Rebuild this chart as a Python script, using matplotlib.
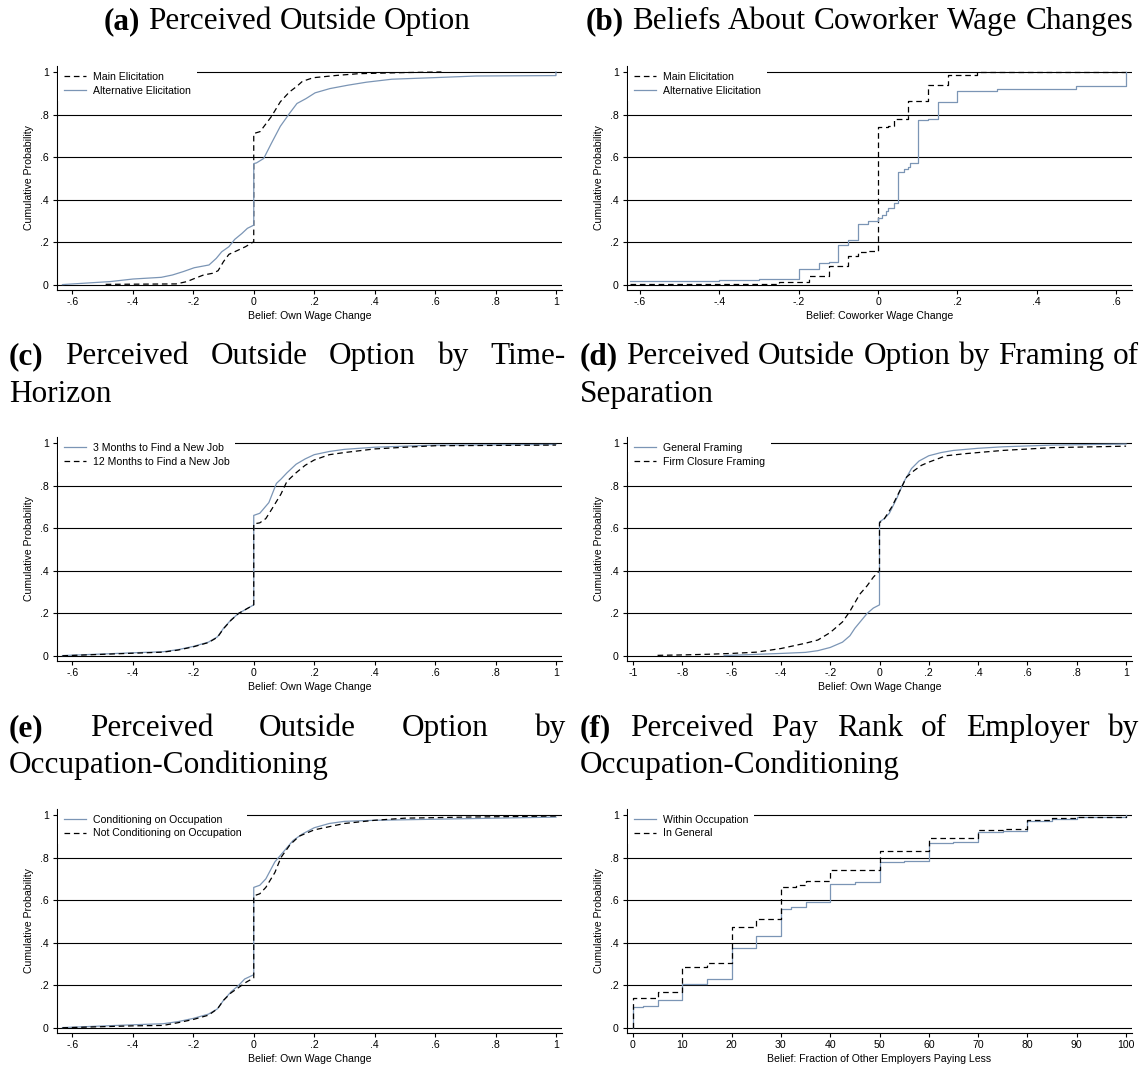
import numpy as np
import matplotlib
matplotlib.use("Agg")
import matplotlib.pyplot as plt
from matplotlib.lines import Line2D

plt.rcParams['font.family'] = ['Liberation Sans', 'DejaVu Sans']

# ---------------- data ----------------
# (a) perceived outside option
a_main_x = [-0.49, -0.257, -0.221, -0.197, -0.166, -0.136, -0.118, -0.1, -0.082, -0.057, -0.027, 0.0,
            0.0, 0.021, 0.058, 0.088, 0.118, 0.143, 0.161, 0.197, 0.276, 0.348, 0.494, 0.621]
a_main_y = [0.003, 0.005, 0.016, 0.03, 0.047, 0.055, 0.067, 0.11, 0.144, 0.16, 0.18, 0.203,
            0.711, 0.72, 0.79, 0.86, 0.906, 0.933, 0.956, 0.973, 0.984, 0.992, 0.997, 1.0]
a_alt_x = [-0.633, -0.475, -0.4, -0.306, -0.269, -0.233, -0.197, -0.148, -0.124, -0.106, -0.082, -0.063,
           -0.039, -0.021, 0.0, 0.0, 0.009, 0.033, 0.058, 0.088, 0.118, 0.143, 0.173, 0.203, 0.252,
           0.312, 0.373, 0.457, 0.591, 0.736, 1.0, 1.0]
a_alt_y = [0.002, 0.016, 0.028, 0.036, 0.047, 0.063, 0.081, 0.094, 0.125, 0.156, 0.18, 0.214,
           0.242, 0.266, 0.281, 0.57, 0.573, 0.594, 0.664, 0.745, 0.805, 0.852, 0.875, 0.902, 0.922,
           0.938, 0.952, 0.966, 0.973, 0.981, 0.983, 1.0]

# (b) coworker wage changes (step functions)
b_main_x = [-0.625, -0.25, -0.175, -0.125, -0.075, -0.05, -0.025, 0.0, 0.025, 0.04, 0.075, 0.125,
            0.175, 0.25, 0.625]
b_main_y = [0.003, 0.012, 0.04, 0.088, 0.137, 0.155, 0.16, 0.74, 0.745, 0.78, 0.865, 0.94,
            0.985, 0.998, 1.0]
b_alt_x = [-0.625, -0.4, -0.3, -0.25, -0.2, -0.15, -0.125, -0.1, -0.075, -0.05, -0.025, 0.0, 0.01,
           0.02, 0.025, 0.04, 0.05, 0.065, 0.075, 0.08, 0.1, 0.125, 0.15, 0.2, 0.3, 0.5, 0.625]
b_alt_y = [0.017, 0.022, 0.026, 0.03, 0.075, 0.102, 0.11, 0.19, 0.21, 0.287, 0.30, 0.315, 0.33,
           0.345, 0.36, 0.385, 0.53, 0.545, 0.555, 0.575, 0.775, 0.78, 0.86, 0.91, 0.92, 0.933, 1.0]

# (c) time horizon
c_3m_x = [-0.633, -0.4, -0.3, -0.25, -0.2, -0.15, -0.12, -0.1, -0.075, -0.05, -0.025, 0.0,
          0.0, 0.02, 0.05, 0.075, 0.09, 0.11, 0.14, 0.17, 0.2, 0.25, 0.3, 0.4, 0.6, 1.0]
c_3m_y = [0.002, 0.015, 0.02, 0.03, 0.045, 0.065, 0.09, 0.13, 0.17, 0.2, 0.22, 0.24,
          0.66, 0.67, 0.72, 0.81, 0.83, 0.86, 0.9, 0.925, 0.945, 0.96, 0.97, 0.98, 0.99, 0.993]
c_12m_x = [-0.633, -0.4, -0.3, -0.25, -0.2, -0.15, -0.12, -0.1, -0.075, -0.05, -0.025, 0.0,
           0.0, 0.02, 0.04, 0.06, 0.09, 0.11, 0.14, 0.17, 0.2, 0.25, 0.3, 0.4, 0.5, 0.6, 1.0]
c_12m_y = [0.001, 0.013, 0.018, 0.028, 0.043, 0.063, 0.088, 0.128, 0.168, 0.2, 0.22, 0.24,
           0.62, 0.625, 0.645, 0.69, 0.76, 0.82, 0.86, 0.895, 0.92, 0.945, 0.955, 0.972, 0.98, 0.987, 0.99]

# (d) framing of separation
d_gen_x = [-0.63, -0.4, -0.3, -0.25, -0.2, -0.15, -0.12, -0.1, -0.075, -0.05, -0.025, 0.0,
           0.0, 0.02, 0.04, 0.07, 0.1, 0.13, 0.16, 0.2, 0.25, 0.3, 0.4, 0.5, 0.7, 1.0]
d_gen_y = [0.002, 0.012, 0.017, 0.025, 0.04, 0.065, 0.095, 0.13, 0.165, 0.2, 0.225, 0.24,
           0.63, 0.645, 0.67, 0.74, 0.82, 0.88, 0.915, 0.94, 0.955, 0.965, 0.975, 0.982, 0.99, 0.995]
d_firm_x = [-0.9, -0.8, -0.7, -0.6, -0.5, -0.4, -0.3, -0.25, -0.2, -0.15, -0.12, -0.08, -0.05,
            -0.025, 0.0, 0.0, 0.02, 0.05, 0.08, 0.11, 0.14, 0.17, 0.2, 0.27, 0.35, 0.5, 0.7, 1.0]
d_firm_y = [0.003, 0.005, 0.008, 0.012, 0.018, 0.035, 0.06, 0.075, 0.11, 0.16, 0.21, 0.29, 0.33,
            0.37, 0.4, 0.625, 0.645, 0.7, 0.77, 0.84, 0.87, 0.895, 0.91, 0.94, 0.95, 0.965, 0.978, 0.985]

# (e) outside option by occupation-conditioning
e_cond_x = [-0.633, -0.4, -0.3, -0.25, -0.2, -0.15, -0.12, -0.1, -0.075, -0.05, -0.03, 0.0,
            0.0, 0.02, 0.04, 0.07, 0.1, 0.13, 0.16, 0.2, 0.25, 0.3, 0.4, 0.6, 1.0]
e_cond_y = [0.002, 0.015, 0.02, 0.03, 0.045, 0.065, 0.09, 0.13, 0.17, 0.2, 0.23, 0.25,
            0.66, 0.67, 0.7, 0.78, 0.83, 0.88, 0.91, 0.94, 0.96, 0.97, 0.975, 0.98, 0.99]
e_nocond_x = [-0.633, -0.4, -0.3, -0.25, -0.2, -0.15, -0.12, -0.1, -0.075, -0.05, -0.025, 0.0,
              0.0, 0.02, 0.04, 0.07, 0.09, 0.12, 0.15, 0.2, 0.25, 0.3, 0.4, 0.5, 0.7, 1.0]
e_nocond_y = [0.001, 0.01, 0.012, 0.025, 0.04, 0.06, 0.09, 0.13, 0.165, 0.19, 0.215, 0.235,
              0.62, 0.63, 0.66, 0.73, 0.8, 0.86, 0.9, 0.93, 0.945, 0.96, 0.975, 0.985, 0.99, 0.995]

# (f) pay rank of employer (step functions)
f_within_x = [0, 0, 2, 5, 10, 15, 20, 25, 30, 32, 35, 40, 45, 50, 55, 60, 65, 70, 75, 80, 85, 90, 100]
f_within_y = [0, 0.1, 0.105, 0.13, 0.205, 0.23, 0.375, 0.43, 0.56, 0.57, 0.59, 0.675, 0.685, 0.78,
              0.785, 0.87, 0.875, 0.92, 0.925, 0.97, 0.98, 0.99, 1.0]
f_general_x = [0, 0, 5, 10, 15, 20, 25, 30, 33, 35, 40, 50, 60, 70, 75, 80, 85, 90, 100]
f_general_y = [0, 0.14, 0.17, 0.285, 0.305, 0.475, 0.51, 0.66, 0.67, 0.69, 0.74, 0.83, 0.89, 0.93,
               0.935, 0.975, 0.985, 0.99, 0.997]

y_ticks = [0, 0.2, 0.4, 0.6, 0.8, 1.0]
y_ticklabels = ['0', '.2', '.4', '.6', '.8', '1']
wage_ticks = [-0.6, -0.4, -0.2, 0, 0.2, 0.4, 0.6, 0.8, 1.0]
wage_ticklabels = ['-.6', '-.4', '-.2', '0', '.2', '.4', '.6', '.8', '1']
cow_ticks = [-0.6, -0.4, -0.2, 0, 0.2, 0.4, 0.6]
cow_ticklabels = ['-.6', '-.4', '-.2', '0', '.2', '.4', '.6']
frame_ticks = [-1, -0.8, -0.6, -0.4, -0.2, 0, 0.2, 0.4, 0.6, 0.8, 1.0]
frame_ticklabels = ['-1', '-.8', '-.6', '-.4', '-.2', '0', '.2', '.4', '.6', '.8', '1']
rank_ticks = [0, 10, 20, 30, 40, 50, 60, 70, 80, 90, 100]
rank_ticklabels = [str(t) for t in rank_ticks]

titles = [
    ('(a)', 'Perceived Outside Option'),
    ('(b)', 'Beliefs About Coworker Wage Changes'),
    ('(c)', 'Perceived Outside Option by Time- | Horizon'),
    ('(d)', 'Perceived Outside Option by Framing of | Separation'),
    ('(e)', 'Perceived Outside Option by | Occupation-Conditioning'),
    ('(f)', 'Perceived Pay Rank of Employer by | Occupation-Conditioning'),
]

# ---------------- styling ----------------
BLUE = '#7b95b5'
W, H = 1146, 1068
FS = 7.6
TS = 22.5

fig = plt.figure(figsize=(W / 100, H / 100), dpi=100)

col_left = [57, 627]
ax_w = 505
row_top = [66, 437, 809]
ax_h = 224


def make_axes(col, row):
    return fig.add_axes([col_left[col] / W, 1 - (row_top[row] + ax_h) / H, ax_w / W, ax_h / H])


def style_axes(ax, xlim, ticks, ticklabels, xlabel):
    ax.set_xlim(xlim)
    ax.set_ylim(-0.0235, 1.028)
    ax.set_yticks(y_ticks)
    ax.set_yticklabels(y_ticklabels)
    ax.set_xticks(ticks)
    ax.set_xticklabels(ticklabels)
    for s in ['top', 'right']:
        ax.spines[s].set_visible(False)
    for s in ['left', 'bottom']:
        ax.spines[s].set_linewidth(0.8)
    ax.tick_params(axis='both', direction='out', length=3, width=0.8, labelsize=FS, pad=2)
    ax.tick_params(axis='y', pad=3)
    ax.set_axisbelow(True)
    ax.grid(axis='y', color='black', linewidth=0.8)
    ax.set_xlabel(xlabel, fontsize=FS, labelpad=3)
    ax.set_ylabel('Cumulative Probability', fontsize=FS, labelpad=4)


def add_legend(ax, handles, labels):
    leg = ax.legend(handles, labels, loc='upper left', bbox_to_anchor=(0.002, 1.0),
                    fontsize=FS, frameon=True, fancybox=False, facecolor='white',
                    edgecolor='none', framealpha=1, handlelength=2.1, handletextpad=0.65,
                    labelspacing=0.35, borderpad=0.55, borderaxespad=0.0)
    leg.set_zorder(5)


dash = dict(color='black', linewidth=0.9, dashes=(4.5, 3))
solid = dict(color=BLUE, linewidth=0.9)
h_dash = Line2D([], [], **dash)
h_solid = Line2D([], [], **solid)

# (a)
ax = make_axes(0, 0)
ax.plot(a_main_x, a_main_y, **dash)
ax.plot(a_alt_x, a_alt_y, **solid)
style_axes(ax, (-0.651, 1.02), wage_ticks, wage_ticklabels, 'Belief: Own Wage Change')
add_legend(ax, [h_dash, h_solid], ['Main Elicitation', 'Alternative Elicitation'])

# (b)
ax = make_axes(1, 0)
ax.plot(b_main_x, b_main_y, drawstyle='steps-post', **dash)
ax.plot(b_alt_x, b_alt_y, drawstyle='steps-post', **solid)
style_axes(ax, (-0.633, 0.64), cow_ticks, cow_ticklabels, 'Belief: Coworker Wage Change')
add_legend(ax, [h_dash, h_solid], ['Main Elicitation', 'Alternative Elicitation'])

# (c)
ax = make_axes(0, 1)
ax.plot(c_3m_x, c_3m_y, **solid)
ax.plot(c_12m_x, c_12m_y, **dash)
style_axes(ax, (-0.651, 1.02), wage_ticks, wage_ticklabels, 'Belief: Own Wage Change')
add_legend(ax, [h_solid, h_dash], ['3 Months to Find a New Job', '12 Months to Find a New Job'])

# (d)
ax = make_axes(1, 1)
ax.plot(d_gen_x, d_gen_y, **solid)
ax.plot(d_firm_x, d_firm_y, **dash)
style_axes(ax, (-1.024, 1.024), frame_ticks, frame_ticklabels, 'Belief: Own Wage Change')
add_legend(ax, [h_solid, h_dash], ['General Framing', 'Firm Closure Framing'])

# (e)
ax = make_axes(0, 2)
ax.plot(e_cond_x, e_cond_y, **solid)
ax.plot(e_nocond_x, e_nocond_y, **dash)
style_axes(ax, (-0.651, 1.02), wage_ticks, wage_ticklabels, 'Belief: Own Wage Change')
add_legend(ax, [h_solid, h_dash], ['Conditioning on Occupation', 'Not Conditioning on Occupation'])

# (f)
ax = make_axes(1, 2)
ax.plot(f_within_x, f_within_y, drawstyle='steps-post', **solid)
ax.plot(f_general_x, f_general_y, drawstyle='steps-post', **dash)
style_axes(ax, (-1.2, 101.2), rank_ticks, rank_ticklabels,
           'Belief: Fraction of Other Employers Paying Less')
add_legend(ax, [h_solid, h_dash], ['Within Occupation', 'In General'])

# ---------------- subfigure captions (justified like LaTeX) ----------------
renderer = fig.canvas.get_renderer()
col_text = [(9, 566), (580, 1139)]
row_base = [[29], [364, 402], [736, 773]]


def place_words(words, bold_first, x0, x1, y, mode):
    txts = []
    for i, w in enumerate(words):
        txts.append(fig.text(0, 1 - y / H, w, fontsize=TS, family='Liberation Serif',
                             fontweight='bold' if (bold_first and i == 0) else 'normal',
                             ha='left', va='baseline'))
    widths = [t.get_window_extent(renderer).width for t in txts]
    if mode == 'justify' and len(words) > 1:
        gap = (x1 - x0 - sum(widths)) / (len(words) - 1)
    else:
        gap = TS * 100 / 72 * 0.25
    total = sum(widths) + gap * (len(words) - 1)
    pos = (x0 + x1) / 2 - total / 2 if mode == 'center' else x0
    for t, w in zip(txts, widths):
        t.set_x(pos / W)
        pos += w + gap


for k, (lab, text) in enumerate(titles):
    row, col = divmod(k, 2)
    x0, x1 = col_text[col]
    lines = [l.split() for l in text.split(' | ')]
    lines[0] = [lab] + lines[0]
    if row == 0:
        place_words(lines[0], True, x0, x1, row_base[0][0], 'center')
    else:
        place_words(lines[0], True, x0, x1, row_base[row][0], 'justify')
        place_words(lines[1], False, x0, x1, row_base[row][1], 'left')

fig.savefig('out.png', dpi=100)
